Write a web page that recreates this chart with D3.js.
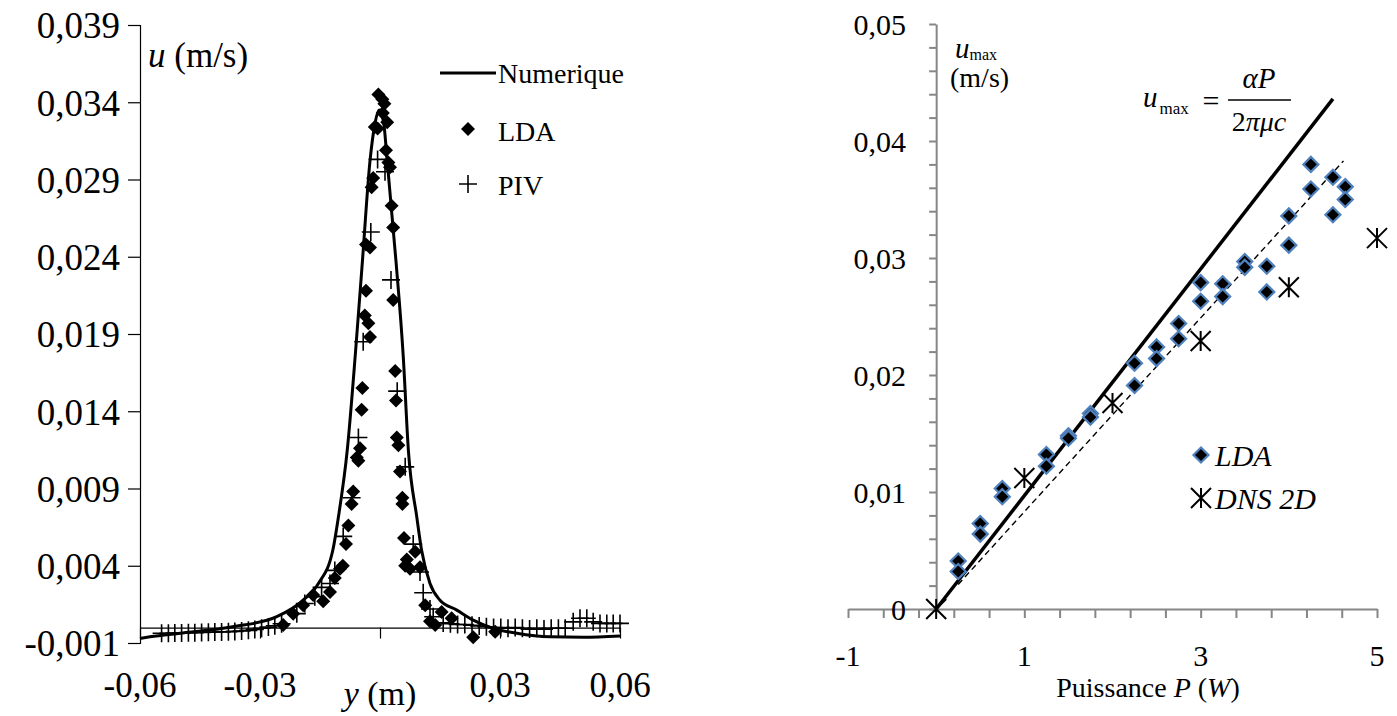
<!DOCTYPE html>
<html>
<head>
<meta charset="utf-8">
<script src="https://cdn.jsdelivr.net/npm/d3@7"></script>
<style>
  body { margin: 0; background: #fff; }
  svg, svg text { font-family: "Liberation Serif", "Times New Roman", "DejaVu Serif", serif; }
</style>
</head>
<body>
<svg id="chart" width="1397" height="716"></svg>
<script>
'use strict';

// ---- left panel : velocity profile u(y) ----
const numY = [-0.06, -0.0575, -0.0493, -0.0368, -0.0258, -0.0192, -0.0154, -0.0118, -0.0104, -0.0082, -0.0061, -0.0044, -0.0025, -0.0012, -0.0002, 0.0009, 0.0018, 0.004, 0.0058, 0.0071, 0.0092, 0.0104, 0.0125, 0.015, 0.0192, 0.0233, 0.0283, 0.0342, 0.0425, 0.0508, 0.06];
const numU = [-0.0007, -0.0006, -0.00035, 0.00005, 0.0007, 0.00177, 0.00285, 0.005, 0.00715, 0.01145, 0.0179, 0.0237, 0.0302, 0.0327, 0.0335, 0.0327, 0.0302, 0.0237, 0.0176, 0.01145, 0.00715, 0.005, 0.00285, 0.00177, 0.00113, 0.00048, -0.00005, -0.00037, -0.0006, -0.00063, -0.00055];

const ldaY = [-0.0242, -0.0217, -0.0192, -0.0167, -0.0142, -0.0125, -0.0113, -0.01, -0.0093, -0.0085, -0.0079, -0.0071, -0.0067, -0.0058, -0.0054, -0.005, -0.0046, -0.0044, -0.0038, -0.0035, -0.0029, -0.0025, -0.0035, -0.0025, -0.0021, -0.0017, -0.0013, -0.0006, -0.0004, 0.0006, 0.0011, 0.0007, 0.0018, 0.0015, 0.0021, 0.0025, 0.0029, 0.0033, 0.0033, 0.0038, 0.004, 0.0042, 0.0046, 0.005, 0.0056, 0.0056, 0.006, 0.0063, 0.0067, 0.0075, 0.0088, 0.01, 0.0113, 0.0125, 0.0138, 0.0154, 0.0179, 0.0233, 0.0288];
const ldaU = [0.00016, 0.0009, 0.00145, 0.0021, 0.0017, 0.0023, 0.0032, 0.0038, 0.004, 0.0054, 0.0066, 0.008, 0.0088, 0.011, 0.0108, 0.0116, 0.0141, 0.0155, 0.0202, 0.0218, 0.0197, 0.0188, 0.0248, 0.0246, 0.0285, 0.0291, 0.0324, 0.0323, 0.0345, 0.0342, 0.0339, 0.0333, 0.0327, 0.0309, 0.0301, 0.0298, 0.0273, 0.0259, 0.0212, 0.0166, 0.0147, 0.0123, 0.0118, 0.0101, 0.0084, 0.008, 0.0058, 0.004, 0.0044, 0.0038, 0.0049, 0.0039, 0.00145, 0.0004, 0.00016, 0.001, 0.0006, -0.00063, -0.00027];

const pivY = [-0.0546, -0.0529, -0.0513, -0.0496, -0.0479, -0.0463, -0.0446, -0.0429, -0.0413, -0.0396, -0.0379, -0.0363, -0.0346, -0.0329, -0.0313, -0.0296, -0.0279, -0.0263, -0.0246,
  -0.0208, -0.0188, -0.0163, -0.0146, -0.0125, -0.0113, -0.0092, -0.0071, -0.0054, -0.0042, -0.0023, -0.0006, 0.00125, 0.00275, 0.0043, 0.0063, 0.0083, 0.01, 0.0108, 0.0125, 0.0133,
  0.0158, 0.0176, 0.0194, 0.0212, 0.023, 0.0248, 0.0266, 0.0284, 0.0302, 0.032, 0.0338, 0.0356, 0.0374, 0.0392, 0.041, 0.0428, 0.0446, 0.0463, 0.0483, 0.05, 0.0517, 0.0533, 0.055, 0.0567, 0.0583, 0.06];
const pivU = [-0.00037, -0.00037, -0.00036, -0.00035, -0.00034, -0.00033, -0.00032, -0.0003, -0.00029, -0.00028, -0.00027, -0.00025, -0.00022, -0.00018, -0.00012, -0.00005, 0.00003, 0.00012, 0.00025,
  0.0009, 0.00156, 0.002, 0.0026, 0.00285, 0.0037, 0.0059, 0.0084, 0.0123, 0.0185, 0.0256, 0.0303, 0.0295, 0.0225, 0.0153, 0.0104, 0.0054, 0.0036, 0.00225, 0.0012, 0.0007,
  0.0003, 0.00025, 0.0002, 0.0002, 0.00015, 0.0001, 0.00005, 0.0000, 0.0000, -0.00005, 0.0000, -0.00005, -0.0001, -0.00005, -0.0001, -0.00005, -0.00005, -0.00005, 0.00037, 0.0006, 0.0006, 0.00037, 0.00027, 0.00027, 0.00027, 0.00027];

const leftYTicks = [-0.001, 0.004, 0.009, 0.014, 0.019, 0.024, 0.029, 0.034, 0.039];
const leftXTicks = [-0.06, -0.03, 0, 0.03, 0.06];
const leftXLabels = [-0.06, -0.03, 0.03, 0.06];

// ---- right panel : u_max versus power ----
const ldaP = [0.25, 0.25, 0.5, 0.5, 0.75, 0.75, 1.25, 1.25, 1.5, 1.5, 1.75, 1.75, 2.25, 2.25, 2.5, 2.5, 2.75, 2.75, 3, 3, 3.25, 3.25, 3.5, 3.5, 3.75, 3.75, 4, 4, 4.25, 4.25, 4.5, 4.5, 4.64, 4.64];
const ldaUmax = [0.0041, 0.0032, 0.0073, 0.0064, 0.0103, 0.0096, 0.0132, 0.0122, 0.0148, 0.0146, 0.0167, 0.0164, 0.0210, 0.0191, 0.0224, 0.0214, 0.0244, 0.0231, 0.0279, 0.0263, 0.0278, 0.0267, 0.0297, 0.0292, 0.0293, 0.0271, 0.0336, 0.0311, 0.0380, 0.0359, 0.0369, 0.0337, 0.0361, 0.0350];

const dnsP = [0, 1, 2, 3, 4, 5];
const dnsUmax = [0, 0.0112, 0.0176, 0.0229, 0.0275, 0.0317];

const theoryP = [0, 4.5];
const theoryU = [0, 0.0436];
const fitP = [0.25, 4.62];
const fitU = [0.0021, 0.0383];

const rightYTicks = [0, 0.01, 0.02, 0.03, 0.04, 0.05];
const rightXLabels = [-1, 1, 3, 5];

const comma = (v, n) => v.toFixed(n).replace('.', ',');

const svg = d3.select('#chart');

// ================= LEFT =================
const xL = d3.scaleLinear().domain([-0.06, 0.06]).range([140, 620]);
const yL = d3.scaleLinear().domain([-0.001, 0.039]).range([643, 25]);

const left = svg.append('g');

left.append('g')
    .attr('transform', 'translate(140,0)')
    .call(d3.axisLeft(yL).tickValues(leftYTicks).tickSize(12).tickFormat(''))
    .call(g => g.selectAll('path, line').attr('stroke', '#000').attr('stroke-width', 1.2));

left.selectAll('.ylab')
  .data(leftYTicks)
  .enter()
  .append('text')
    .attr('x', 120)
    .attr('y', d => yL(d))
    .attr('dy', '0.36em')
    .attr('text-anchor', 'end')
    .attr('font-size', 37)
    .text(d => comma(d, 3));

left.append('g')
    .attr('transform', 'translate(0,' + yL(0) + ')')
    .call(d3.axisBottom(xL).tickValues(leftXTicks).tickSize(11).tickSizeOuter(0).tickFormat(''))
    .call(g => g.selectAll('path, line').attr('stroke', '#000').attr('stroke-width', 1.2));

left.selectAll('.xlab')
  .data(leftXLabels)
  .enter()
  .append('text')
    .attr('x', d => xL(d))
    .attr('y', 697)
    .attr('text-anchor', 'middle')
    .attr('font-size', 35)
    .text(d => comma(d, 2));

const yTitle = left.append('text').attr('x', 148).attr('y', 67).attr('font-size', 35);
yTitle.append('tspan').attr('font-style', 'italic').text('u');
yTitle.append('tspan').text(' (m/s)');

const xTitle = left.append('text').attr('x', xL(0)).attr('y', 705).attr('text-anchor', 'middle').attr('font-size', 34);
xTitle.append('tspan').attr('font-style', 'italic').text('y');
xTitle.append('tspan').text(' (m)');

const numLine = d3.line()
  .x(i => xL(numY[i]))
  .y(i => yL(numU[i]))
  .curve(d3.curveMonotoneX);

left.append('path')
    .attr('d', numLine(d3.range(numY.length)))
    .attr('fill', 'none')
    .attr('stroke', '#000')
    .attr('stroke-width', 3);

const diamond = 'M0,-7L7,0L0,7L-7,0Z';
const plus = 'M-9,0H9M0,-9V9';

left.selectAll('.lda')
  .data(ldaY)
  .enter()
  .append('path')
    .attr('d', diamond)
    .attr('transform', (d, i) => 'translate(' + xL(d) + ',' + yL(ldaU[i]) + ')')
    .attr('fill', '#000');

left.selectAll('.piv')
  .data(pivY)
  .enter()
  .append('path')
    .attr('d', plus)
    .attr('transform', (d, i) => 'translate(' + xL(d) + ',' + yL(pivU[i]) + ')')
    .attr('fill', 'none')
    .attr('stroke', '#000')
    .attr('stroke-width', 1.6);

// legend
left.append('line').attr('x1', 440).attr('x2', 496).attr('y1', 73).attr('y2', 73)
    .attr('stroke', '#000').attr('stroke-width', 3);
left.append('path').attr('d', diamond).attr('transform', 'translate(468,129)');
left.append('path').attr('d', plus).attr('transform', 'translate(468,184)')
    .attr('stroke', '#000').attr('stroke-width', 1.6);
[['Numerique', 83], ['LDA', 141], ['PIV', 195]].forEach(([t, y]) => {
  left.append('text').attr('x', 498).attr('y', y).attr('font-size', 28).text(t);
});

// ================= RIGHT =================
const xR = d3.scaleLinear().domain([-1, 5]).range([848, 1377]);
const yR = d3.scaleLinear().domain([0, 0.05]).range([609, 24]);
const grey = '#868686';

const right = svg.append('g');

right.append('g')
    .attr('transform', 'translate(' + xR(0) + ',0)')
    .call(d3.axisLeft(yR).tickValues(d3.range(0, 0.0501, 0.002)).tickSize(7).tickSizeOuter(0).tickFormat(''))
    .call(g => g.selectAll('path, line').attr('stroke', grey).attr('stroke-width', 2));

right.append('g')
    .attr('transform', 'translate(0,' + yR(0) + ')')
    .call(d3.axisBottom(xR).tickValues(d3.range(-1, 5.01, 0.4)).tickSize(9).tickSizeOuter(0).tickFormat(''))
    .call(g => g.selectAll('path, line').attr('stroke', grey).attr('stroke-width', 2));

right.selectAll('.rylab')
  .data(rightYTicks)
  .enter()
  .append('text')
    .attr('x', 906)
    .attr('y', d => yR(d))
    .attr('dy', '0.36em')
    .attr('text-anchor', 'end')
    .attr('font-size', 30)
    .text(d => d === 0 ? '0' : comma(d, 2));

right.selectAll('.rxlab')
  .data(rightXLabels)
  .enter()
  .append('text')
    .attr('x', d => xR(d))
    .attr('y', 666)
    .attr('text-anchor', 'middle')
    .attr('font-size', 30)
    .text(d => d);

const pTitle = right.append('text').attr('x', 1148).attr('y', 697).attr('text-anchor', 'middle').attr('font-size', 28);
pTitle.append('tspan').text('Puissance ');
pTitle.append('tspan').attr('font-style', 'italic').text('P');
pTitle.append('tspan').text(' (');
pTitle.append('tspan').attr('font-style', 'italic').text('W');
pTitle.append('tspan').text(')');

const uTitle = right.append('text').attr('x', 955).attr('y', 58).attr('font-size', 29);
uTitle.append('tspan').attr('font-style', 'italic').text('u');
uTitle.append('tspan').attr('font-size', 16).attr('dy', 2).text('max');
right.append('text').attr('x', 950).attr('y', 87).attr('font-size', 28).text('(m/s)');

// formula
const fx = right.append('text').attr('x', 1143).attr('y', 107).attr('font-size', 29);
fx.append('tspan').attr('font-style', 'italic').text('u');
fx.append('tspan').attr('font-size', 17).attr('dy', 7).attr('dx', 2).text('max');
right.append('text').attr('x', 1211).attr('y', 111).attr('text-anchor', 'middle').attr('font-size', 30).text('=');
right.append('line').attr('x1', 1228).attr('x2', 1291).attr('y1', 100).attr('y2', 100)
    .attr('stroke', '#000').attr('stroke-width', 1.5);
right.append('text').attr('x', 1259).attr('y', 88).attr('text-anchor', 'middle')
    .attr('font-size', 29).attr('font-style', 'italic').text('αP');
const den = right.append('text').attr('x', 1259).attr('y', 131).attr('text-anchor', 'middle').attr('font-size', 28);
den.append('tspan').text('2');
den.append('tspan').attr('font-style', 'italic').text('πμc');

const seg = d3.line().x(d => xR(d[0])).y(d => yR(d[1]));

right.append('path')
    .attr('d', seg(d3.zip(theoryP, theoryU)))
    .attr('stroke', '#000').attr('stroke-width', 3.5).attr('fill', 'none');

right.append('path')
    .attr('d', seg(d3.zip(fitP, fitU)))
    .attr('stroke', '#000').attr('stroke-width', 1.4).attr('stroke-dasharray', '6,4').attr('fill', 'none');

const rDiamond = 'M0,-7.5L7.5,0L0,7.5L-7.5,0Z';
const star = 'M-10,-10L10,10M-10,10L10,-10M0,-10V10';

right.selectAll('.rlda')
  .data(ldaP)
  .enter()
  .append('path')
    .attr('d', rDiamond)
    .attr('transform', (d, i) => 'translate(' + xR(d) + ',' + yR(ldaUmax[i]) + ')')
    .attr('fill', '#000')
    .attr('stroke', '#4f81bd')
    .attr('stroke-width', 2.2);

right.selectAll('.dns')
  .data(dnsP)
  .enter()
  .append('path')
    .attr('d', star)
    .attr('transform', (d, i) => 'translate(' + xR(d) + ',' + yR(dnsUmax[i]) + ')')
    .attr('fill', 'none')
    .attr('stroke', '#000')
    .attr('stroke-width', 2);

// legend
right.append('path').attr('d', rDiamond).attr('transform', 'translate(1201,455)')
    .attr('fill', '#000').attr('stroke', '#4f81bd').attr('stroke-width', 2.2);
right.append('path').attr('d', star).attr('transform', 'translate(1201,498)')
    .attr('fill', 'none').attr('stroke', '#000').attr('stroke-width', 2);
right.append('text').attr('x', 1215).attr('y', 466).attr('font-size', 30).attr('font-style', 'italic').text('LDA');
right.append('text').attr('x', 1215).attr('y', 509).attr('font-size', 30).attr('font-style', 'italic').text('DNS 2D');
</script>
</body>
</html>
